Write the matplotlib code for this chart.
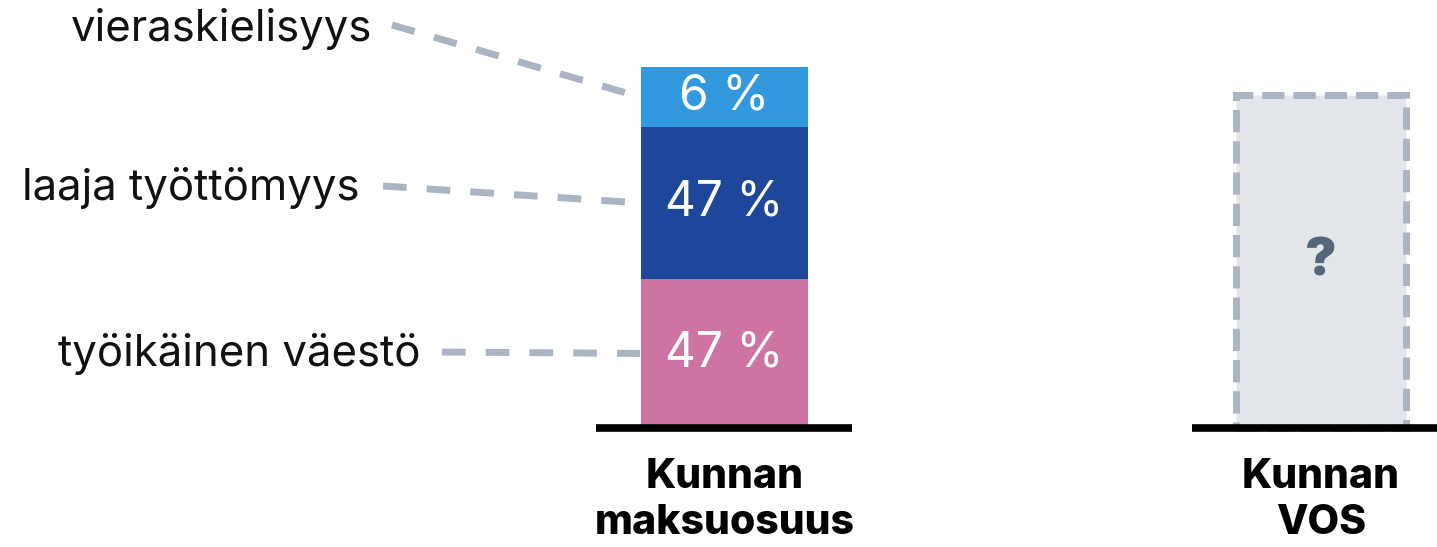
import matplotlib.pyplot as plt
from matplotlib.patches import Rectangle

plt.rcParams['font.family'] = ['Inter', 'DejaVu Sans']

# data
segments = ['työikäinen väestö', 'laaja työttömyys', 'vieraskielisyys']
shares = [47, 47, 6]                    # printed values (%)
seg_heights = [41.3, 42.1, 16.6]        # drawn heights
seg_colors = ['#cd74a2', '#1e479b', '#3399de']
bar_labels = ['Kunnan\nmaksuosuus', 'Kunnan\nVOS']
unknown_height = 92.2

# layout (x in pixels, y in bar units)
fig = plt.figure(figsize=(14.37, 5.47), dpi=100)
ax = fig.add_axes([0, 0, 1, 1])
ax.set_xlim(0, 1437)
ax.set_ylim(-119 / 3.61, 100 + 67 / 3.61)
ax.axis('off')


def to_y(py):
    # pixel row -> bar units
    return 100 + 67 / 3.61 - py / 3.61


x1, x2, w = 724.5, 1321, 167
grey = '#aab4c2'

# stacked bar
bottom = 0
label_pos = [(442, 352), (383, 186), (392, 25)]
text_pos = [(421, 354), (359, 188), (372, 29)]
for name, val, h, c, lp, tp in zip(segments, shares, seg_heights, seg_colors, label_pos, text_pos):
    ax.bar(x1, h, width=w, bottom=bottom, color=c, linewidth=0, zorder=2)
    mid = bottom + h / 2
    ax.text(x1, mid, f'{val} %', color='white', fontsize=34.5, ha='center', va='center', zorder=3)
    # leader line from label to segment
    ax.plot([lp[0], x1 - w / 2 - 1], [to_y(lp[1]), mid],
            color=grey, lw=5, ls=(0, (3.4, 2.9)), solid_capstyle='butt', zorder=1)
    ax.text(tp[0], to_y(tp[1]), name, fontsize=31.5, ha='right', va='center', color='#111111')
    bottom += h

# unknown bar
box = Rectangle((x2 - 85, 0), 170, unknown_height, facecolor='#e2e6eb', edgecolor=grey,
                lw=5, ls=(0, (3.2, 1.3)), zorder=2)
ax.add_patch(box)
ax.text(x2, unknown_height / 2, '?', fontsize=38, fontweight='black', color='#546678',
        ha='center', va='center', zorder=3)

# baselines
ax.plot([596, 852], [0, 0], color='black', lw=5.5, solid_capstyle='butt', zorder=4)
ax.plot([1192, 1437], [0, 0], color='black', lw=5.5, solid_capstyle='butt', zorder=4)

for x, lab in zip([x1, x2], bar_labels):
    ax.text(x, to_y(500), lab, fontsize=29.5, fontweight='heavy', ha='center', va='center',
            linespacing=1.3, color='black')

fig.savefig('out.png', dpi=100)
